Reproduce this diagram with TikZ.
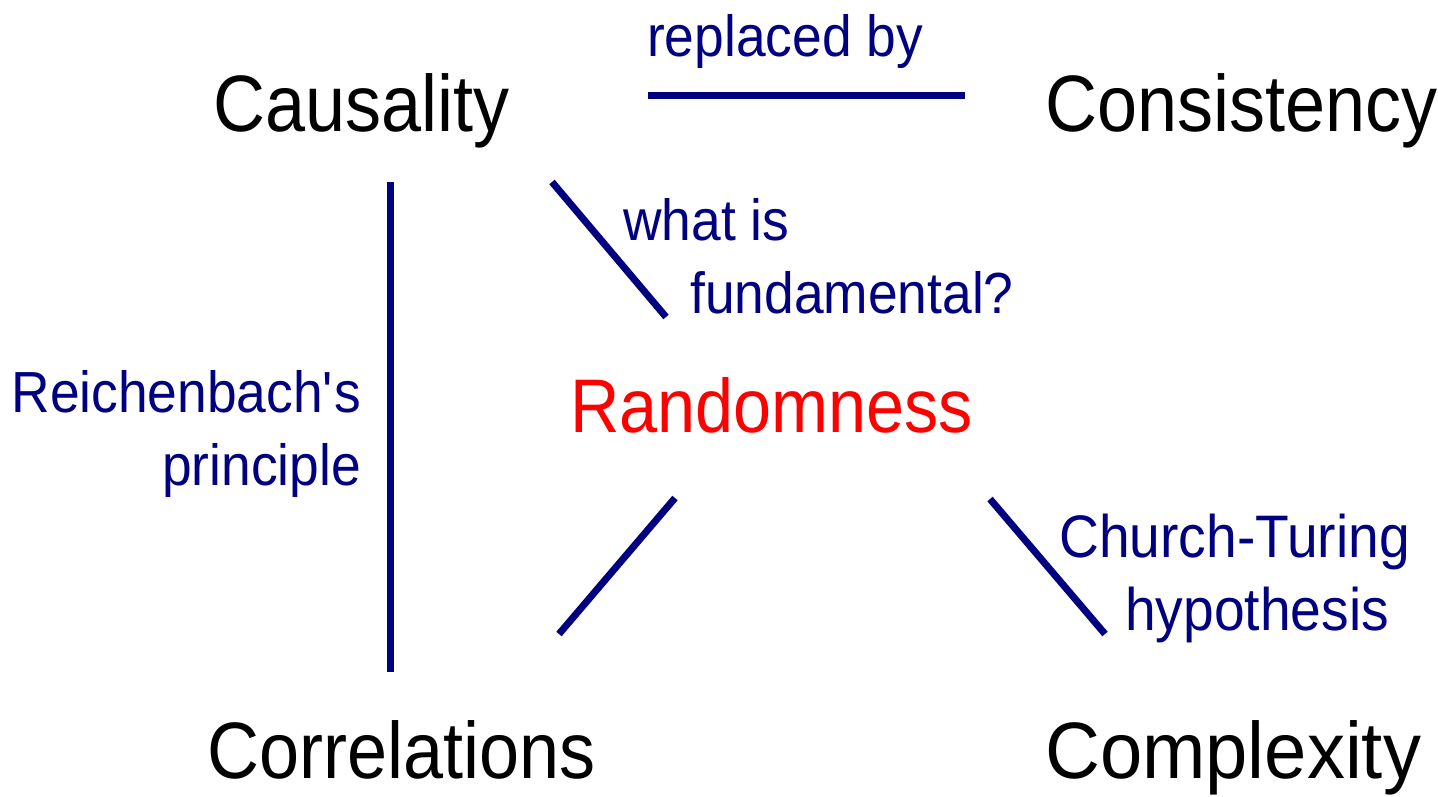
\documentclass[tikz,border=0pt]{standalone}
\usepackage{fontspec}
\setmainfont{Liberation Sans}[FakeStretch=0.9]
\newfontfamily\lblfont{Liberation Sans}[FakeStretch=0.92]
\newfontfamily\wideterm{Liberation Sans}[FakeStretch=0.95]
\definecolor{navyline}{RGB}{0,0,128}
\definecolor{redtext}{RGB}{255,0,0}
\begin{document}
\begin{tikzpicture}[x=1pt,y=-1pt,
  big/.style={inner sep=0pt,anchor=base west,font=\fontsize{80}{96}\selectfont,text=black},
  center/.style={inner sep=0pt,anchor=base west,font=\fontsize{76}{90}\selectfont,text=redtext},
  lbl/.style={inner sep=0pt,font=\lblfont\fontsize{58}{73}\selectfont,text=navyline},
  link/.style={draw=navyline,line width=7pt}]
\useasboundingbox (0,0) rectangle (1438,797);
\fill[white] (0,0) rectangle (1438,797);
% main terms
\node[big] (caus) at (213,132) {Causality};
\node[big] (cons) at (1045,132) {Consistency};
\node[big] (corr) at (207,778) {Correlations};
\node[big,font=\wideterm\fontsize{80}{96}\selectfont] (comp) at (1045,778) {Complexity};
\node[center] (rand) at (570,432) {Randomness};
% labels (multi-line: base anchor = last line)
\node[lbl,anchor=base west] (repl) at (647,57) {replaced by};
\node[lbl,anchor=base west,align=left] (fund) at (623,313) {what is\\\hspace*{67pt}fundamental?};
\node[lbl,anchor=base east,align=right] (reich) at (361,485) {Reichenbach\textquotesingle s\\principle};
\node[lbl,anchor=base west,align=left,font=\lblfont\fontsize{60}{73}\selectfont] (church) at (1059,630) {Church-Turing\\\hspace*{66pt}hypothesis};
% connector end points
\coordinate (h1) at (648,96);  \coordinate (h2) at (965,96);
\coordinate (v1) at (390,182); \coordinate (v2) at (390,672);
\coordinate (d1a) at (552,182); \coordinate (d1b) at (666,317);
\coordinate (d2a) at (675,498); \coordinate (d2b) at (559,634);
\coordinate (d3a) at (990,499); \coordinate (d3b) at (1105,634);
\draw[link] (h1) -- (h2);
\draw[link] (v1) -- (v2);
\draw[link] (d1a) -- (d1b);
\draw[link] (d2a) -- (d2b);
\draw[link] (d3a) -- (d3b);
\end{tikzpicture}
\end{document}
